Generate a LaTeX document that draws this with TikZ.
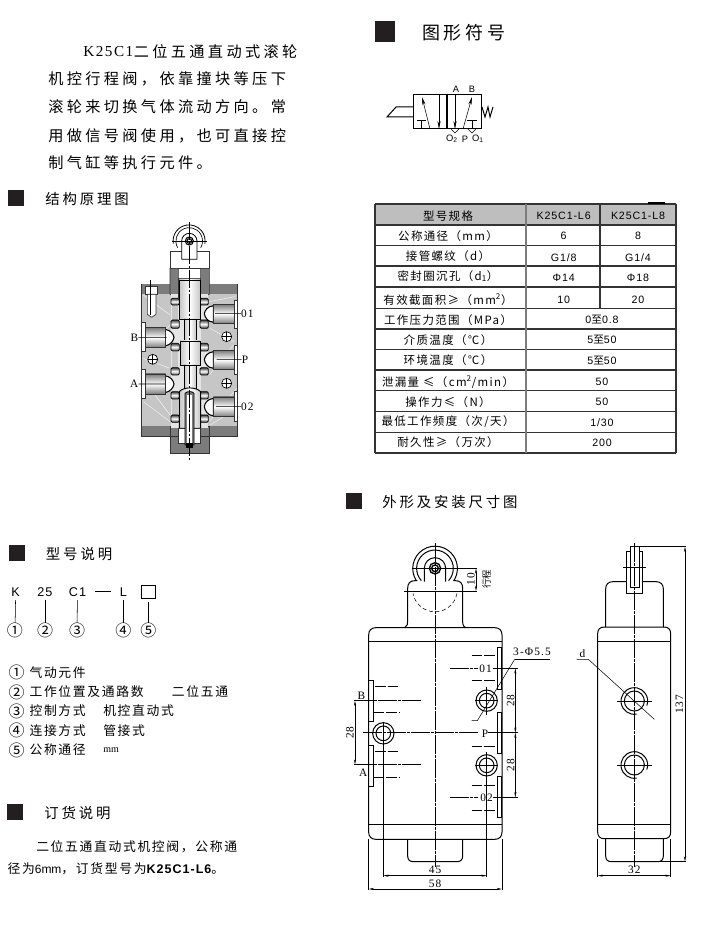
\documentclass[tikz,border=0pt]{standalone}
\usepackage{fontspec}
\usetikzlibrary{arrows.meta}
\setmainfont{Liberation Serif}
\setsansfont{Liberation Sans}
\newfontfamily\cjk{Noto Sans CJK SC}
\newfontfamily\cjkbody[LetterSpace=22]{Noto Sans CJK SC}
\newfontfamily\cjkhead[LetterSpace=20]{Noto Sans CJK SC}
\newfontfamily\cjktab[LetterSpace=12]{Noto Sans CJK SC}
\newfontfamily\cjklist[LetterSpace=13]{Noto Sans CJK SC}
\newfontfamily\latwide[LetterSpace=8]{Liberation Sans}
\newfontfamily\serwide[LetterSpace=10]{Liberation Serif}
\definecolor{cutgray}{HTML}{C6C6C6}
\definecolor{cutdark}{HTML}{7C7C7C}
\definecolor{cutline}{HTML}{333333}
\definecolor{headgray}{HTML}{BEBEBE}
\definecolor{sqblack}{HTML}{231F20}
\tikzset{
  introtxt/.style={anchor=west,inner sep=0pt,font=\fontsize{11.4}{14}\selectfont\cjkbody},
  headtxt/.style={anchor=west,inner sep=0pt,font=\fontsize{10.8}{13}\selectfont\cjkhead},
  listtxt/.style={anchor=west,inner sep=0pt,font=\fontsize{9.6}{12}\selectfont\cjklist},
  ciretxt/.style={inner sep=0pt,font=\fontsize{12}{14}\selectfont\cjk},
  tbltxt/.style={inner sep=0pt,font=\fontsize{8.6}{11}\selectfont\cjktab},
  tblval/.style={inner sep=0pt,font=\fontsize{8}{10}\selectfont\latwide},
  codetxt/.style={inner sep=0pt,outer sep=3pt,font=\fontsize{9.5}{11}\selectfont\latwide},
  symtxt/.style={inner sep=0pt,font=\fontsize{7}{8}\selectfont\sffamily},
  dimtxt/.style={inner sep=0pt,font=\fontsize{8.5}{10}\selectfont\serwide},
  sqmark/.style={fill=sqblack,draw=none},
  tblline/.style={color=cutline,line width=0.8pt},
  tblsep/.style={color=cutdark,line width=1.2pt},
  cutbody/.style={draw=cutline,fill=cutgray,line width=0.6pt},
  cutfill/.style={fill=cutdark,draw=cutline,line width=0.4pt},
  cutseal/.style={top color=black!75,bottom color=black!75,middle color=white,draw=black,line width=0.6pt,rounded corners=1pt},
  cutport/.style={top color=cutdark,bottom color=cutdark,middle color=white,draw=cutline,line width=0.6pt},
  cutland/.style={left color=cutgray,right color=cutgray,middle color=white,draw=black,line width=0.7pt},
  cutstreak/.style={white,line width=0.25pt},
  outline/.style={line width=0.75pt},
  thinline/.style={line width=0.4pt},
  hiddenline/.style={line width=0.6pt,dash pattern={on 8pt off 1.5pt}},
  axisline/.style={line width=0.4pt,dash pattern={on 14pt off 1pt on 2pt off 1pt}},
  dimline/.style={<->,>={Stealth[length=4pt,width=1.6pt]},line width=0.4pt},
}
\begin{document}
\begin{tikzpicture}[x=0.75pt,y=0.75pt,yscale=-1,xscale=1]
\useasboundingbox (0,0) rectangle (700,944);

% Intro text
\draw (83,52) node (introA) [anchor=west,inner sep=0pt,font=\fontsize{11.4}{14}\selectfont\serwide] {K25C1};
\draw (introA.east) node (introB) [introtxt] {二位五通直动式滚轮};
\draw (48,79) node (introC) [introtxt] {机控行程阀，依靠撞块等压下};
\draw (48,107) node (introD) [introtxt] {滚轮来切换气体流动方向。常};
\draw (48,136) node (introE) [introtxt] {用做信号阀使用，也可直接控};
\draw (48,163) node (introF) [introtxt] {制气缸等执行元件。};

% Headings
\fill [sqmark] (8,190) rectangle (24,206);
\draw (45,199) node (headStruct) [headtxt] {结构原理图};
\fill [sqmark] (375,21) rectangle (395,42);
\draw (422,33) node (headSymbol) [anchor=west,inner sep=0pt,font=\fontsize{13.5}{16}\selectfont\cjkhead] {图形符号};
\fill [sqmark] (346,493) rectangle (362,509);
\draw (382,502) node (headSize) [headtxt] {外形及安装尺寸图};
\fill [sqmark] (9,545) rectangle (25,561);
\draw (45.7,554) node (headModel) [headtxt] {型号说明};
\fill [sqmark] (7,804) rectangle (23,820);
\draw (44,812.7) node (headOrder) [headtxt] {订货说明};

%Valve symbol
\draw [outline] (413,95) rectangle (481,129);
\draw [line width=1.1pt] (447,95) -- (447,129);
\draw [outline] (413,107) -- (396,107) -- (387,117) -- (413,117);
\draw [thinline,-{Stealth[length=6pt,width=2.4pt]}] (430,129) -- (422,97);
\draw [thinline,-{Stealth[length=6pt,width=2.4pt]}] (439,95) -- (439,129);
\draw [thinline,-{Stealth[length=6pt,width=2.4pt]}] (455,95) -- (455,129);
\draw [thinline,-{Stealth[length=6pt,width=2.4pt]}] (463,129) -- (472,97);
\draw [thinline] (417,120) -- (426,120);
\draw [thinline] (421,120) -- (421,129);
\draw [thinline] (467,120) -- (477,120);
\draw [thinline] (472,120) -- (472,129);
\draw [thinline] (451,129) -- (455,133) -- (459,129);
\draw [thinline] (468,129) -- (472,133) -- (476,129);
\draw [outline] (482,107) -- (485,117) -- (488,107) -- (490,117) -- (493,107);
\draw (456,89) node (symA) [symtxt] {A};
\draw (472,89) node (symB) [symtxt] {B};
\draw (452,139) node (symOb) [symtxt] {O\textsubscript{2}};
\draw (465,139) node (symP) [symtxt] {P};
\draw (478,139) node (symOa) [symtxt] {O\textsubscript{1}};

%Spec table
\fill [headgray] (375,204) rectangle (676,225);
\draw [tblline] (375,204) -- (676,204);
\draw [tblline] (375,225) -- (676,225);
\draw [tblline] (375,245.7) -- (676,245.7);
\draw [tblline] (375,266) -- (676,266);
\draw [tblline] (375,287) -- (676,287);
\draw [tblline] (375,308.3) -- (676,308.3);
\draw [tblline] (375,329) -- (676,329);
\draw [tblline] (375,349.3) -- (676,349.3);
\draw [tblline] (375,370) -- (676,370);
\draw [tblline] (375,390.7) -- (676,390.7);
\draw [tblline] (375,411.7) -- (676,411.7);
\draw [tblline] (375,432.3) -- (676,432.3);
\draw [tblline] (375,453) -- (676,453);
\draw [tblline] (375,204) -- (375,453);
\draw [tblline] (676,204) -- (676,453);
\draw [tblsep] (526,204) -- (526,453);
\draw [tblline] (600,204) -- (600,308.3);
\draw [line width=1pt] (648,203) -- (665,203);

% Text Node
\draw (448,215.7) node (tblType) [tbltxt] {型号规格};
\draw (563.7,215.7) node (tblLsix) [tblval] {K25C1-L6};
\draw (638,215.7) node (tblLeight) [tblval] {K25C1-L8};
\draw (448,235.7) node (tblBore) [tbltxt] {公称通径（mm）};
\draw (563.7,236) node (valBoreA) [tblval] {6};
\draw (638,236) node (valBoreB) [tblval] {8};
\draw (448,255.7) node (tblThread) [tbltxt] {接管螺纹（d）};
\draw (563.7,257.7) node (valThreadA) [tblval] {G1/8};
\draw (638,257.7) node (valThreadB) [tblval] {G1/4};
\draw (448,276) node (tblSeal) [tbltxt] {密封圈沉孔（d\textsubscript{1}）};
\draw (563.7,278) node (valSealA) [tblval] {Φ14};
\draw (638,278) node (valSealB) [tblval] {Φ18};
\draw (448,300) node (tblArea) [tbltxt] {有效截面积≥（mm\textsuperscript{2}）};
\draw (563.7,300) node (valAreaA) [tblval] {10};
\draw (638,300) node (valAreaB) [tblval] {20};
\draw (448,320) node (tblPress) [tbltxt] {工作压力范围（MPa）};
\draw (602,320) node (valPress) [tblval] {0{\cjk 至}0.8};
\draw (448,340) node (tblMedia) [tbltxt] {介质温度（℃）};
\draw (602,340) node (valMedia) [tblval] {5{\cjk 至}50};
\draw (448,360) node (tblAmb) [tbltxt] {环境温度（℃）};
\draw (602,360.7) node (valAmb) [tblval] {5{\cjk 至}50};
\draw (448,381.7) node (tblLeak) [tbltxt] {泄漏量 ≤（cm\textsuperscript{2}/min）};
\draw (602,381.7) node (valLeak) [tblval] {50};
\draw (448,401.7) node (tblForce) [tbltxt] {操作力≤（N）};
\draw (602,402) node (valForce) [tblval] {50};
\draw (448,421.7) node (tblFreq) [tbltxt] {最低工作频度（次/天）};
\draw (602,423) node (valFreq) [tblval] {1/30};
\draw (448,441.7) node (tblLife) [tbltxt] {耐久性≥（万次）};
\draw (602,443) node (valLife) [tblval] {200};

%Model code
\draw (15.7,591.7) node (codeK) [codetxt] {K};
\draw (45,591.7) node (codeNum) [codetxt] {25};
\draw (77.5,591.7) node (codeCone) [codetxt] {C1};
\draw (123.3,591.7) node (codeL) [codetxt] {L};
\draw (148.3,591.8) node (codeBox) [draw,line width=0.6pt,inner sep=0pt,minimum width=11pt,minimum height=10.2pt,outer sep=2.5pt] {};
\draw [line width=0.6pt] (95,591.7) -- (110.7,591.7);
\draw (15,630.7) node (numA) [ciretxt] {①};
\draw (45,630.7) node (numB) [ciretxt] {②};
\draw (77,630.7) node (numC) [ciretxt] {③};
\draw (123.3,630.7) node (numD) [ciretxt] {④};
\draw (148.3,630.7) node (numE) [ciretxt] {⑤};
\draw [thinline] (codeK) -- (numA);
\draw [thinline] (codeNum) -- (numB);
\draw [thinline] (codeCone) -- (numC);
\draw [thinline] (codeL) -- (numD);
\draw [thinline] (codeBox) -- (numE);

%Model list
\draw (16.7,672.7) node (itemA) [ciretxt] {①};
\draw (29.3,672.7) node (txtA) [listtxt] {气动元件};
\draw (16.7,692) node (itemB) [ciretxt] {②};
\draw (29.3,692) node (txtB) [listtxt] {工作位置及通路数};
\draw (171.7,692) node (txtBb) [listtxt] {二位五通};
\draw (16.7,711) node (itemC) [ciretxt] {③};
\draw (29.3,711) node (txtC) [listtxt] {控制方式};
\draw (103,711) node (txtCc) [listtxt] {机控直动式};
\draw (16.7,730.3) node (itemD) [ciretxt] {④};
\draw (29.3,730.3) node (txtD) [listtxt] {连接方式};
\draw (103,730.3) node (txtDd) [listtxt] {管接式};
\draw (16.7,750) node (itemE) [ciretxt] {⑤};
\draw (29.3,750) node (txtE) [listtxt] {公称通径};
\draw (103,750.5) node (txtEe) [anchor=west,inner sep=0pt,font=\fontsize{7.5}{9}\selectfont] {mm};

%Order text
\draw (36,846.7) node (orderA) [listtxt] {二位五通直动式机控阀，公称通};
\draw (7.3,869) node (orderB) [listtxt] {径为{\fontsize{9}{12}\selectfont\sffamily 6mm}，订货型号为{\fontsize{9.4}{12}\selectfont\latwide\bfseries K25C1-L6}。};

%Cut-away view
\begin{scope}[shift={(110,215)},scale=1/3]
\draw [cutbody] (95,208) rectangle (382,664);
\fill [cutdark] (95,208) rectangle (180,238);
\fill [cutdark] (298,208) rectangle (382,238);
\fill [cutdark] (95,634) rectangle (382,664);
\draw [cutstreak] (180,300) -- (100,240);
\draw [cutstreak] (180,330) -- (120,400);
\draw [cutstreak] (180,600) -- (105,500);
\draw [cutstreak] (180,620) -- (100,560);
\draw [cutstreak] (180,460) -- (100,430);
\draw [cutstreak] (298,260) -- (375,245);
\draw [cutstreak] (300,340) -- (372,380);
\draw [cutstreak] (298,480) -- (370,390);
\draw [cutstreak] (298,620) -- (380,520);
\draw [cutstreak] (300,630) -- (350,600);
% necks
\draw [cutbody,fill=white] (180,108) rectangle (298,160);
\draw [cutfill] (180,160) -- (205,160) -- (205,190) -- (272,190) -- (272,160) -- (298,160) -- (298,238) -- (272,250) -- (205,250) -- (180,238) -- cycle;
\draw [cutfill] (180,664) -- (298,664) -- (298,714) -- (180,714) -- cycle;
\draw [cutfill] (180,634) -- (298,634) -- (298,664) -- (180,664) -- cycle;
% bore
\fill [cutgray!45] (183,238) rectangle (295,640);
\draw [cutline,line width=0.5pt] (205,190) -- (205,250);
\draw [cutline,line width=0.5pt] (272,190) -- (272,250);
\fill [cutgray] (186,270) rectangle (204,315);
\fill [cutgray] (272,340) rectangle (294,385);
\fill [cutgray] (186,410) rectangle (204,458);
\fill [cutgray] (272,480) rectangle (294,530);
\fill [cutgray] (186,552) rectangle (204,600);
% seals
\draw [cutseal] (183,250) rectangle (208,270);
\draw [cutseal] (270,250) rectangle (295,270);
\draw [cutseal] (183,315) rectangle (208,340);
\draw [cutseal] (270,315) rectangle (295,340);
\draw [cutseal] (183,385) rectangle (208,408);
\draw [cutseal] (270,385) rectangle (295,408);
\draw [cutseal] (183,458) rectangle (208,480);
\draw [cutseal] (270,458) rectangle (295,480);
\draw [cutseal] (183,530) rectangle (208,552);
\draw [cutseal] (270,530) rectangle (295,552);
\draw [cutseal] (183,600) rectangle (208,622);
\draw [cutseal] (270,600) rectangle (295,622);
% spool
\draw [cutland] (208,195) rectangle (270,312);
\draw [cutland] (222,312) rectangle (258,378);
\draw [cutland] (210,378) rectangle (270,450);
\draw [cutland] (222,450) rectangle (258,522);
\draw [cutland] (208,640) -- (208,530) .. controls (220,515) and (258,515) .. (272,530) -- (272,640) -- cycle;
\draw [fill=white,draw=cutline,line width=0.5pt] (205,640) rectangle (272,685);
\draw [fill=cutdark,draw=black,line width=0.6pt] (225,690) -- (225,535) .. controls (230,528) and (248,528) .. (252,535) -- (252,690) -- cycle;
\fill [white] (232,540) rectangle (245,685);
\fill [black] (228,685) rectangle (250,700);
% ports right
\draw [fill=white,draw=black,line width=0.8pt] (310,272) .. controls (292,275) and (285,285) .. (283,296) .. controls (285,307) and (292,320) .. (310,322) -- cycle;
\draw [cutport] (310,268) rectangle (375,325);
\draw [fill=white,draw=black,line width=0.8pt] (310,410) .. controls (292,413) and (285,423) .. (283,434) .. controls (285,445) and (292,458) .. (310,460) -- cycle;
\draw [cutport] (310,406) rectangle (375,463);
\draw [fill=white,draw=black,line width=0.8pt] (310,550) .. controls (292,553) and (285,563) .. (283,575) .. controls (285,587) and (292,600) .. (310,603) -- cycle;
\draw [cutport] (310,546) rectangle (375,605);
\draw [fill=white,draw=cutline,line width=0.5pt] (372,255) rectangle (382,340);
\draw [fill=white,draw=cutline,line width=0.5pt] (372,392) rectangle (382,478);
\draw [fill=white,draw=cutline,line width=0.5pt] (372,530) rectangle (382,620);
% ports left
\draw [fill=white,draw=black,line width=0.8pt] (165,343) .. controls (182,346) and (190,356) .. (192,367) .. controls (190,378) and (182,390) .. (165,393) -- cycle;
\draw [cutport] (105,338) rectangle (167,398);
\draw [fill=white,draw=black,line width=0.8pt] (165,482) .. controls (182,485) and (190,496) .. (192,507) .. controls (190,518) and (182,530) .. (165,533) -- cycle;
\draw [cutport] (105,477) rectangle (167,537);
\draw [fill=white,draw=cutline,line width=0.5pt] (95,322) rectangle (105,410);
\draw [fill=white,draw=cutline,line width=0.5pt] (95,462) rectangle (105,550);
% bolt
\draw [fill=white,draw=cutline,line width=0.5pt] (105,215) rectangle (143,238);
\draw [fill=white,draw=cutline,line width=0.5pt] (112,238) -- (112,298) -- (125,307) -- (138,298) -- (138,238) -- cycle;
\draw [thinline] (122,195) -- (122,300);
% plugs
\draw [fill=white,draw=black,line width=0.5pt] (128,433) circle (15);
\draw [thinline] (113,433) -- (143,433);
\draw [thinline] (128,418) -- (128,448);
\draw [fill=white,draw=black,line width=0.5pt] (350,365) circle (15);
\draw [thinline] (335,365) -- (365,365);
\draw [thinline] (350,350) -- (350,380);
\draw [fill=white,draw=black,line width=0.5pt] (350,505) circle (15);
\draw [thinline] (335,505) -- (365,505);
\draw [thinline] (350,490) -- (350,520);
% roller
\draw [fill=white,line width=0.6pt] (190,86) arc (170:370:48);
\draw [line width=0.5pt] (203,98) arc (150:390:40);
\draw [fill=white,line width=0.6pt] (215,133) -- (215,78) arc (180:360:23) -- (261,133) -- cycle;
\draw [line width=0.8pt] (238,78) circle (12);
\draw [fill=white,line width=0.8pt] (238,78) circle (7);
\draw [thinline] (185,78) -- (292,78);
\draw [axisline] (238,20) -- (238,740);
% leaders
\draw (412,296) node (lab01) [dimtxt] {01};
\draw (73,367) node (labB) [dimtxt] {B};
\draw (73,507) node (labA) [dimtxt] {A};
\draw (405,433) node (labP) [dimtxt] {P};
\draw (412,575) node (lab02) [dimtxt] {02};
\coordinate (end01) at (315,296);
\coordinate (endB) at (170,367);
\coordinate (endA) at (165,507);
\coordinate (endP) at (320,433);
\coordinate (end02) at (318,575);
\draw [thinline] (lab01) -- (end01);
\draw [thinline] (labB) -- (endB);
\draw [thinline] (labA) -- (endA);
\draw [thinline] (labP) -- (endP);
\draw [thinline] (lab02) -- (end02);
\end{scope}

%Front view
\begin{scope}[shift={(340,530)},scale=1/3]
\draw [outline] (108,293) -- (464,293) .. controls (478,293) and (486,301) .. (486,315) -- (486,906) .. controls (486,920) and (478,928) .. (464,928) -- (108,928) .. controls (94,928) and (86,920) .. (86,906) -- (86,315) .. controls (86,301) and (94,293) .. (108,293) -- cycle;
\draw [outline] (86,333) -- (486,333);
\draw [outline] (86,884) -- (486,884);
\draw [outline] (203,928) -- (203,978) .. controls (203,990) and (210,995) .. (220,995) -- (351,995) .. controls (361,995) and (368,990) .. (368,978) -- (368,928);
% neck
\draw [outline] (194,293) .. controls (203,290) and (203,280) .. (203,270) -- (203,175) .. controls (203,160) and (210,152) .. (225,152) -- (232,152);
\draw [outline] (340,152) -- (346,152) .. controls (361,152) and (368,160) .. (368,175) -- (368,270) .. controls (368,280) and (368,290) .. (378,293);
% roller
\draw [outline] (229,152) arc (147:393:67);
\draw [outline] (244,152) arc (138:402:55);
\draw [outline] (253,155) -- (253,115) arc (180:360:32) -- (317,155);
\draw [line width=1pt] (285,115) circle (17);
\draw [line width=1pt] (285,115) circle (10);
\draw [thinline,densely dashed] (351,190) arc (10:170:67);
\draw [thinline] (215,115) -- (410,115);
\draw [thinline] (193,183) -- (410,183);
\draw [dimline] (408,115) -- (408,183);
\draw (393,147) node (dimStroke) [dimtxt,rotate=90] {10};
\draw (440,147) node (dimTrip) [inner sep=0pt,rotate=90,font=\fontsize{7}{9}\selectfont\cjk] {行程};
\draw [axisline] (285,40) -- (285,1010);
% flanges left
\draw [outline] (86,450) rectangle (100,575);
\draw [outline] (86,645) rectangle (100,768);
\draw [hiddenline] (105,470) -- (180,470);
\draw [hiddenline] (100,548) -- (180,548);
\draw [hiddenline] (105,665) -- (180,665);
\draw [hiddenline] (100,742) -- (180,742);
\draw [axisline] (42,512) -- (242,512);
\draw [axisline] (42,704) -- (242,704);
% flanges right
\draw [outline] (472,352) rectangle (484,478);
\draw [outline] (472,547) rectangle (484,670);
\draw [outline] (472,738) rectangle (484,862);
\draw [hiddenline] (395,377) -- (470,377);
\draw [hiddenline] (395,452) -- (470,452);
\draw [hiddenline] (395,648) -- (470,648);
\draw [hiddenline] (395,765) -- (470,765);
\draw [hiddenline] (395,840) -- (470,840);
\draw (437,415) node (labOa) [dimtxt] {01};
\draw (435,610) node (labPp) [dimtxt] {P};
\draw (440,802) node (labOb) [dimtxt] {02};
\draw (64,497) node (labBb) [dimtxt] {B};
\draw (70,727) node (labAa) [dimtxt] {A};
\draw [axisline] (330,415) -- (415,415);
\draw [thinline] (458,415) -- (535,415);
\draw [axisline] (70,608) -- (415,608);
\draw [thinline] (445,608) -- (535,608);
\draw [axisline] (330,802) -- (415,802);
\draw [thinline] (460,802) -- (535,802);
% holes
\draw [outline] (130,610) circle (32);
\draw [outline] (130,610) circle (22);
\draw [outline] (440,512) circle (32);
\draw [outline] (440,512) circle (22);
\draw [outline] (440,706) circle (32);
\draw [outline] (440,706) circle (22);
\draw [thinline] (405,512) -- (475,512);
\draw [thinline] (405,706) -- (475,706);
\draw [thinline] (440,470) -- (440,555);
\draw [thinline] (130,575) -- (130,1040);
\draw [thinline] (440,665) -- (440,1040);
% dimensions
\draw [thinline] (86,928) -- (86,1080);
\draw [thinline] (486,928) -- (486,1080);
\draw [dimline] (130,1037) -- (440,1037);
\draw [dimline] (86,1077) -- (486,1077);
\draw (285,1018) node (dimFf) [dimtxt] {45};
\draw (285,1060) node (dimFe) [dimtxt] {58};
\draw [dimline] (45,512) -- (45,704);
\draw (30,608) node (dimLeft) [dimtxt,rotate=90] {28};
\draw [dimline] (526,415) -- (526,608);
\draw [dimline] (526,608) -- (526,802);
\draw (512,512) node (dimRa) [dimtxt,rotate=90] {28};
\draw (512,705) node (dimRb) [dimtxt,rotate=90] {28};
\draw [thinline] (524,388) -- (412,572) -- (395,572);
\draw [thinline] (524,388) -- (630,388);
\draw (576,366) node (dimHole) [dimtxt] {3-Φ5.5};
\end{scope}

%Side view
\begin{scope}[shift={(520,530)},scale=1/3]
\draw [outline] (253,291) -- (432,291) .. controls (445,291) and (452,298) .. (452,311) -- (452,906) .. controls (452,919) and (445,926) .. (432,926) -- (253,926) .. controls (240,926) and (233,919) .. (233,906) -- (233,311) .. controls (233,298) and (240,291) .. (253,291) -- cycle;
\draw [outline] (233,333) -- (452,333);
\draw [outline] (233,882) -- (452,882);
\draw [outline] (257,926) -- (257,978) .. controls (257,990) and (264,995) .. (274,995) -- (413,995) .. controls (423,995) and (430,990) .. (430,978) -- (430,926);
\draw [outline] (257,291) -- (257,177) .. controls (257,163) and (265,155) .. (279,155) -- (320,155);
\draw [outline] (368,155) -- (408,155) .. controls (422,155) and (430,163) .. (430,177) -- (430,291);
\draw [outline] (320,65) rectangle (368,190);
\draw [outline,fill=white] (330,50) rectangle (358,172);
\draw [thinline] (310,113) -- (378,113);
\draw [axisline] (343,40) -- (343,1010);
% holes
\draw [outline] (343,513) circle (30);
\draw [outline] (343,513) ++(80:40) arc (80:380:40);
\draw [outline] (343,705) circle (30);
\draw [outline] (343,705) ++(80:40) arc (80:380:40);
\draw [thinline] (292,513) -- (395,513);
\draw [thinline] (292,705) -- (395,705);
\draw (187,371) node (labThread) [dimtxt] {d};
\draw [thinline] (170,388) -- (205,388) -- (403,568);
% dimensions
\draw [thinline] (345,50) -- (498,50);
\draw [thinline] (400,995) -- (498,995);
\draw [dimline] (495,50) -- (495,995);
\draw (478,523) node (dimLong) [dimtxt,rotate=90] {137};
\draw [thinline] (233,926) -- (233,1040);
\draw [thinline] (452,926) -- (452,1040);
\draw [dimline] (233,1037) -- (452,1037);
\draw (343,1018) node (dimWide) [dimtxt] {32};
\end{scope}

\end{tikzpicture}
\end{document}
